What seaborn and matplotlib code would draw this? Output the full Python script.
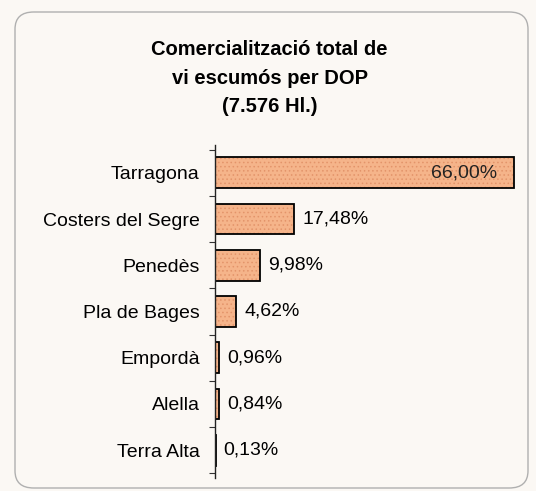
import numpy as np
import pandas as pd
import matplotlib
import matplotlib.pyplot as plt
import seaborn as sns
from matplotlib.patches import FancyBboxPatch

matplotlib.use('Agg')

# 数据
categories = ["Tarragona", "Costers del Segre", "Penedès", "Pla de Bages",
              "Empordà", "Alella", "Terra Alta"]
shares = [66.00, 17.48, 9.98, 4.62, 0.96, 0.84, 0.13]
share_labels = ["66,00%", "17,48%", "9,98%", "4,62%", "0,96%", "0,84%", "0,13%"]
title_lines = ["Comercialització total de", "vi escumós per DOP", "(7.576 Hl.)"]

sns.set_theme(style="white")
plt.rcParams['font.family'] = ['Liberation Sans', 'DejaVu Sans']
plt.rcParams['hatch.linewidth'] = 0.6

bg = "#fbf8f4"
bar_color = "#f5b48a"
dot_color = "#e3946a"

df = pd.DataFrame({"dop": categories, "share": shares})

fig = plt.figure(figsize=(5.36, 4.91), dpi=100, facecolor=bg)

# 圆角外框
frame = FancyBboxPatch((15 / 536, 3 / 491), 513 / 536, 476 / 491,
                       boxstyle="round,pad=0,rounding_size=0.035",
                       transform=fig.transFigure, facecolor="none",
                       edgecolor="#b0b0b0", linewidth=1.0)
fig.patches.append(frame)

fig.text(0.503, 0.919, "\n".join(title_lines), ha='center', va='top',
         fontsize=14.5, fontweight='bold', linespacing=1.65, color="black")

ax = fig.add_axes([215 / 536, 13 / 491, 317 / 536, 333 / 491])
ax.set_facecolor("none")

# 点状填充
sns.barplot(data=df, x="share", y="dop", orient="h", ax=ax, width=0.66,
            color=bar_color, edgecolor=dot_color, linewidth=0, hatch="....",
            saturation=1)
# 黑色边框
sns.barplot(data=df, x="share", y="dop", orient="h", ax=ax, width=0.66,
            fill=False, edgecolor="black", linewidth=1.3)

for i, (v, lab) in enumerate(zip(shares, share_labels)):
    if v > 50:
        ax.text(v - 3.6, i, lab, ha='right', va='center', fontsize=14,
                color="#222222")
    else:
        ax.text(v + 1.8, i, lab, ha='left', va='center', fontsize=14,
                color="black")

ax.set_xlim(0, 70)
ax.set_ylim(6.6, -0.6)
ax.set_xlabel("")
ax.set_ylabel("")
ax.set_xticks([])
ax.set_yticks(range(len(categories)))
ax.set_yticklabels(categories, fontsize=14, color="black")
ax.set_yticks(np.arange(-0.5, len(categories), 1.0), minor=True)
ax.tick_params(axis='y', which='major', length=0, pad=11)
ax.tick_params(axis='y', which='minor', length=4, width=0.8, direction='out',
               left=True, color="#333333")
for side in ["top", "right", "bottom"]:
    ax.spines[side].set_visible(False)
ax.spines["left"].set_color("#222222")
ax.spines["left"].set_linewidth(1.0)
ax.spines["left"].set_bounds(-0.6, 6.6)

fig.savefig("out.png", dpi=100, facecolor=bg)
